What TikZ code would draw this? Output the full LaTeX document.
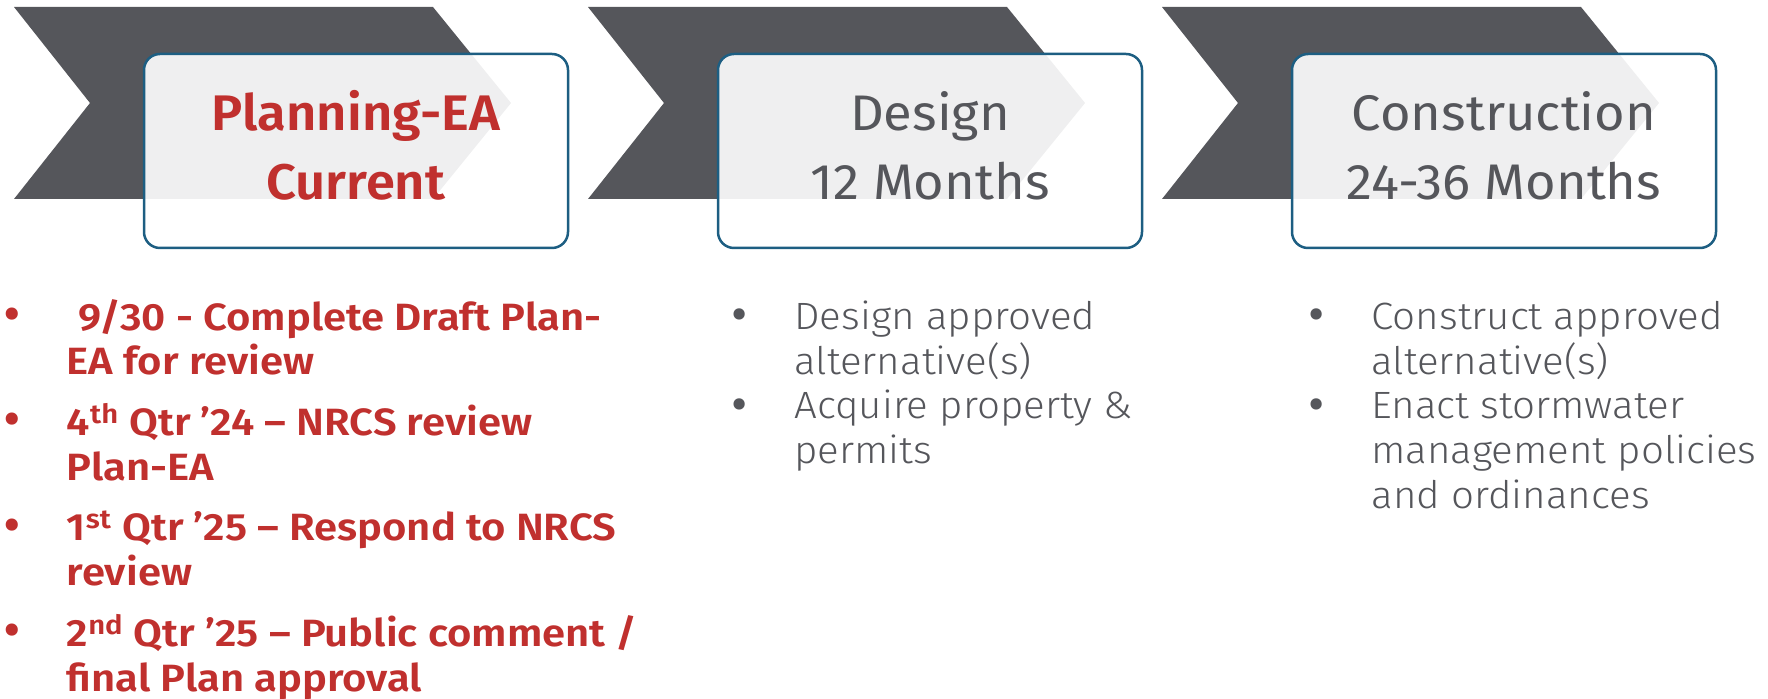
\documentclass[tikz,border=0pt]{standalone}
\usepackage{fontspec}
\setmainfont{Fira Sans}
\newfontfamily\titleregular[FakeStretch=1.05]{Fira Sans}
\newfontfamily\titlesemi[FakeStretch=1.05]{Fira Sans SemiBold}
\newfontfamily\itemsemi[FakeStretch=1.10]{Fira Sans SemiBold}
\newfontfamily\itemlight[FakeStretch=1.06]{Fira Sans Light}
\definecolor{chev}{HTML}{55565B}
\definecolor{boxblue}{HTML}{1D5E82}
\definecolor{redtxt}{HTML}{C0302E}
\definecolor{greytxt}{HTML}{55565B}
\begin{document}
\begin{tikzpicture}[x=0.5pt,y=-0.5pt,
  chevron/.style={fill=chev, draw=none},
  stagebox/.style={draw=boxblue, line width=1.25pt, fill=white, fill opacity=0.91,
    rounded corners=8pt, minimum width=212pt, minimum height=97pt, inner sep=0pt, outer sep=0pt},
  redtitle/.style={anchor=base, text=redtxt, font=\titlesemi\fontsize{25}{28}\selectfont},
  greytitle/.style={anchor=base, text=greytxt, font=\titleregular\fontsize{25}{28}\selectfont},
  reditem/.style={anchor=base west, align=left, text=redtxt, inner sep=0pt,
    font=\itemsemi\fontsize{19}{22.2}\selectfont},
  greyitem/.style={anchor=base west, align=left, text=greytxt, inner sep=0pt,
    font=\itemlight\fontsize{19}{22.5}\selectfont},
  redbullet/.style={anchor=base, text=redtxt, inner sep=0pt, font=\fontsize{27}{30}\selectfont},
  greybullet/.style={anchor=base, text=greytxt, inner sep=0pt, font=\fontsize{25}{30}\selectfont}]
\useasboundingbox (0,0) rectangle (1768,699);
% chevrons
\foreach \i in {0,1,2}{
  \fill[chevron, xshift=287*\i pt] (14,7) -- (433,7) -- (511,103) -- (433,199) -- (14,199) -- (90,103) -- cycle;
}
% stage boxes
\node[stagebox] (box1) at (356,151) {};
\node[stagebox] (box2) at (930,151) {};
\node[stagebox] (box3) at (1504,151) {};
% titles
\node[redtitle] (t1a) at (356,130.5) {Planning-EA};
\node[redtitle] (t1b) at (356,200) {Current};
\node[greytitle] (t2a) at (930,130.5) {Design};
\node[greytitle] (t2b) at (930,200) {12 Months};
\node[greytitle] (t3a) at (1504,130.5) {Construction};
\node[greytitle] (t3b) at (1504,200) {24-36 Months};
% red items (anchored at the baseline of their last line)
\node[redbullet] (rb1) at (12,332.3) {•};
\node[reditem] (r1) at (66.5,375) {\hspace*{5.75pt}9/30 - Complete Draft Plan-\\EA for review};
\node[redbullet] (rb2) at (12,437.3) {•};
\node[reditem] (r2) at (66.5,480.1) {4\textsuperscript{th} Qtr ’24 – NRCS review\\Plan-EA};
\node[redbullet] (rb3) at (12,543.1) {•};
\node[reditem] (r3) at (66.5,585.1) {1\textsuperscript{st} Qtr ’25 – Respond to NRCS\\review};
\node[redbullet] (rb4) at (12,648.6) {•};
\node[reditem] (r4) at (66.5,691.1) {2\textsuperscript{nd} Qtr ’25 – Public comment /\\final Plan approval};
% design items
\node[greybullet] (db1) at (739.5,331.2) {•};
\node[greyitem] (d1) at (794,374.5) {Design approved\\alternative(s)};
\node[greybullet] (db2) at (739.5,421.2) {•};
\node[greyitem] (d2) at (794,464) {Acquire property \&\\permits};
% construction items
\node[greybullet] (cb1) at (1316.5,331.2) {•};
\node[greyitem] (c1) at (1371,374.5) {Construct approved\\alternative(s)};
\node[greybullet] (cb2) at (1316.5,421.2) {•};
\node[greyitem] (c2) at (1371,509) {Enact stormwater\\management policies\\and ordinances};
\end{tikzpicture}
\end{document}
